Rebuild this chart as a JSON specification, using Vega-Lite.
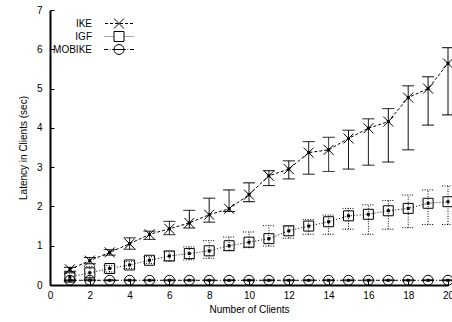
{
  "$schema": "https://vega.github.io/schema/vega-lite/v6.json",
  "width": 398,
  "height": 275,
  "autosize": "none",
  "padding": {"left": 50, "top": 10, "right": 4, "bottom": 37},
  "background": "white",
  "config": {
    "view": {"stroke": null},
    "font": "Liberation Sans",
    "axis": {
      "domainColor": "black",
      "domainWidth": 2,
      "tickColor": "black",
      "tickSize": -4,
      "labelFont": "Liberation Sans",
      "labelFontSize": 10,
      "labelColor": "black",
      "titleFont": "Liberation Sans",
      "titleFontSize": 10,
      "titleFontWeight": "normal",
      "titleColor": "black",
      "grid": false,
      "labelFlush": false,
      "labelOverlap": false
    }
  },
  "data": {
    "values": [
      {"x": 1, "series": "IKE", "y": 0.40, "lo": 0.35, "hi": 0.45},
      {"x": 2, "series": "IKE", "y": 0.62, "lo": 0.54, "hi": 0.70},
      {"x": 3, "series": "IKE", "y": 0.83, "lo": 0.76, "hi": 0.90},
      {"x": 4, "series": "IKE", "y": 1.05, "lo": 0.91, "hi": 1.20},
      {"x": 5, "series": "IKE", "y": 1.29, "lo": 1.16, "hi": 1.37},
      {"x": 6, "series": "IKE", "y": 1.43, "lo": 1.28, "hi": 1.62},
      {"x": 7, "series": "IKE", "y": 1.58, "lo": 1.45, "hi": 1.90},
      {"x": 8, "series": "IKE", "y": 1.79, "lo": 1.60, "hi": 2.21},
      {"x": 9, "series": "IKE", "y": 1.94, "lo": 1.87, "hi": 2.42},
      {"x": 10, "series": "IKE", "y": 2.30, "lo": 2.12, "hi": 2.60},
      {"x": 11, "series": "IKE", "y": 2.78, "lo": 2.53, "hi": 2.91},
      {"x": 12, "series": "IKE", "y": 2.95, "lo": 2.70, "hi": 3.16},
      {"x": 13, "series": "IKE", "y": 3.37, "lo": 2.82, "hi": 3.65},
      {"x": 14, "series": "IKE", "y": 3.44, "lo": 2.89, "hi": 3.76},
      {"x": 15, "series": "IKE", "y": 3.73, "lo": 2.95, "hi": 3.94},
      {"x": 16, "series": "IKE", "y": 3.99, "lo": 3.05, "hi": 4.23},
      {"x": 17, "series": "IKE", "y": 4.16, "lo": 3.13, "hi": 4.49},
      {"x": 18, "series": "IKE", "y": 4.77, "lo": 3.44, "hi": 5.07},
      {"x": 19, "series": "IKE", "y": 5.00, "lo": 4.07, "hi": 5.30},
      {"x": 20, "series": "IKE", "y": 5.64, "lo": 4.33, "hi": 6.04},
      {"x": 1, "series": "IGF", "y": 0.20, "lo": 0.10, "hi": 0.30},
      {"x": 2, "series": "IGF", "y": 0.31, "lo": 0.15, "hi": 0.47},
      {"x": 3, "series": "IGF", "y": 0.42, "lo": 0.33, "hi": 0.50},
      {"x": 4, "series": "IGF", "y": 0.51, "lo": 0.42, "hi": 0.60},
      {"x": 5, "series": "IGF", "y": 0.63, "lo": 0.55, "hi": 0.72},
      {"x": 6, "series": "IGF", "y": 0.74, "lo": 0.61, "hi": 0.85},
      {"x": 7, "series": "IGF", "y": 0.80, "lo": 0.64, "hi": 0.97},
      {"x": 8, "series": "IGF", "y": 0.87, "lo": 0.68, "hi": 1.13},
      {"x": 9, "series": "IGF", "y": 1.00, "lo": 0.88, "hi": 1.22},
      {"x": 10, "series": "IGF", "y": 1.09, "lo": 0.95, "hi": 1.35},
      {"x": 11, "series": "IGF", "y": 1.18, "lo": 0.99, "hi": 1.51},
      {"x": 12, "series": "IGF", "y": 1.38, "lo": 1.19, "hi": 1.50},
      {"x": 13, "series": "IGF", "y": 1.50, "lo": 1.29, "hi": 1.67},
      {"x": 14, "series": "IGF", "y": 1.61, "lo": 1.29, "hi": 1.78},
      {"x": 15, "series": "IGF", "y": 1.76, "lo": 1.42, "hi": 1.95},
      {"x": 16, "series": "IGF", "y": 1.80, "lo": 1.29, "hi": 2.04},
      {"x": 17, "series": "IGF", "y": 1.89, "lo": 1.42, "hi": 2.15},
      {"x": 18, "series": "IGF", "y": 1.95, "lo": 1.46, "hi": 2.29},
      {"x": 19, "series": "IGF", "y": 2.08, "lo": 1.54, "hi": 2.42},
      {"x": 20, "series": "IGF", "y": 2.12, "lo": 1.54, "hi": 2.52},
      {"x": 1, "series": "MOBIKE", "y": 0.12, "lo": 0.11, "hi": 0.13},
      {"x": 2, "series": "MOBIKE", "y": 0.12, "lo": 0.11, "hi": 0.13},
      {"x": 3, "series": "MOBIKE", "y": 0.12, "lo": 0.11, "hi": 0.13},
      {"x": 4, "series": "MOBIKE", "y": 0.12, "lo": 0.11, "hi": 0.13},
      {"x": 5, "series": "MOBIKE", "y": 0.12, "lo": 0.11, "hi": 0.13},
      {"x": 6, "series": "MOBIKE", "y": 0.12, "lo": 0.11, "hi": 0.13},
      {"x": 7, "series": "MOBIKE", "y": 0.12, "lo": 0.11, "hi": 0.13},
      {"x": 8, "series": "MOBIKE", "y": 0.12, "lo": 0.11, "hi": 0.13},
      {"x": 9, "series": "MOBIKE", "y": 0.12, "lo": 0.11, "hi": 0.13},
      {"x": 10, "series": "MOBIKE", "y": 0.12, "lo": 0.11, "hi": 0.13},
      {"x": 11, "series": "MOBIKE", "y": 0.12, "lo": 0.11, "hi": 0.13},
      {"x": 12, "series": "MOBIKE", "y": 0.12, "lo": 0.11, "hi": 0.13},
      {"x": 13, "series": "MOBIKE", "y": 0.12, "lo": 0.11, "hi": 0.13},
      {"x": 14, "series": "MOBIKE", "y": 0.12, "lo": 0.11, "hi": 0.13},
      {"x": 15, "series": "MOBIKE", "y": 0.12, "lo": 0.11, "hi": 0.13},
      {"x": 16, "series": "MOBIKE", "y": 0.12, "lo": 0.11, "hi": 0.13},
      {"x": 17, "series": "MOBIKE", "y": 0.12, "lo": 0.11, "hi": 0.13},
      {"x": 18, "series": "MOBIKE", "y": 0.12, "lo": 0.11, "hi": 0.13},
      {"x": 19, "series": "MOBIKE", "y": 0.12, "lo": 0.11, "hi": 0.13},
      {"x": 20, "series": "MOBIKE", "y": 0.12, "lo": 0.11, "hi": 0.13}
    ]
  },
  "encoding": {
    "x": {
      "field": "x",
      "type": "quantitative",
      "scale": {"domain": [0, 20], "nice": false},
      "axis": {"values": [0, 2, 4, 6, 8, 10, 12, 14, 16, 18, 20], "title": "Number of Clients", "labelPadding": 9, "titlePadding": 4}
    }
  },
  "layer": [
    {
      "mark": {"type": "line", "color": "black", "strokeWidth": 1},
      "encoding": {
        "y": {
          "field": "y",
          "type": "quantitative",
          "scale": {"domain": [0, 7], "nice": false},
          "axis": {"values": [0, 1, 2, 3, 4, 5, 6, 7], "title": "Latency in Clients (sec)", "labelPadding": 12, "titlePadding": 8}
        },
        "strokeDash": {
          "field": "series",
          "type": "nominal",
          "scale": {"domain": ["IKE", "IGF", "MOBIKE"], "range": [[3, 2], [1, 2], [4, 2, 1, 2]]},
          "legend": null
        }
      }
    },
    {
      "mark": {"type": "rule", "color": "black", "strokeWidth": 1},
      "encoding": {
        "y": {
          "field": "lo",
          "type": "quantitative",
          "scale": {"domain": [0, 7], "nice": false},
          "axis": {"values": [0, 1, 2, 3, 4, 5, 6, 7], "title": "Latency in Clients (sec)", "labelPadding": 12, "titlePadding": 8}
        },
        "y2": {"field": "hi"},
        "strokeDash": {
          "field": "series",
          "type": "nominal",
          "scale": {"domain": ["IKE", "IGF", "MOBIKE"], "range": [[1, 0], [1, 1.5], [1, 0]]},
          "legend": null
        }
      }
    },
    {
      "mark": {"type": "point", "shape": "M-1,0L1,0", "size": 144, "filled": false, "color": "black", "strokeWidth": 1, "opacity": 1},
      "encoding": {
        "y": {
          "field": "lo",
          "type": "quantitative",
          "scale": {"domain": [0, 7], "nice": false},
          "axis": {"values": [0, 1, 2, 3, 4, 5, 6, 7], "title": "Latency in Clients (sec)", "labelPadding": 12, "titlePadding": 8}
        },
        "strokeDash": {
          "field": "series",
          "type": "nominal",
          "scale": {"domain": ["IKE", "IGF", "MOBIKE"], "range": [[1, 0], [1, 1.5], [1, 0]]},
          "legend": null
        }
      }
    },
    {
      "mark": {"type": "point", "shape": "M-1,0L1,0", "size": 144, "filled": false, "color": "black", "strokeWidth": 1, "opacity": 1},
      "encoding": {
        "y": {
          "field": "hi",
          "type": "quantitative",
          "scale": {"domain": [0, 7], "nice": false},
          "axis": {"values": [0, 1, 2, 3, 4, 5, 6, 7], "title": "Latency in Clients (sec)", "labelPadding": 12, "titlePadding": 8}
        },
        "strokeDash": {
          "field": "series",
          "type": "nominal",
          "scale": {"domain": ["IKE", "IGF", "MOBIKE"], "range": [[1, 0], [1, 1.5], [1, 0]]},
          "legend": null
        }
      }
    },
    {
      "mark": {"type": "point", "filled": false, "color": "black", "strokeWidth": 1, "size": 100, "opacity": 1},
      "encoding": {
        "y": {
          "field": "y",
          "type": "quantitative",
          "scale": {"domain": [0, 7], "nice": false},
          "axis": {"values": [0, 1, 2, 3, 4, 5, 6, 7], "title": "Latency in Clients (sec)", "labelPadding": 12, "titlePadding": 8}
        },
        "shape": {
          "field": "series",
          "type": "nominal",
          "scale": {"domain": ["IKE", "IGF", "MOBIKE"], "range": ["M-1,-1L1,1M-1,1L1,-1", "square", "circle"]},
          "legend": null
        }
      }
    },
    {
      "mark": {"type": "square", "color": "black", "filled": true, "opacity": 1},
      "encoding": {
        "y": {
          "field": "y",
          "type": "quantitative",
          "scale": {"domain": [0, 7], "nice": false},
          "axis": {"values": [0, 1, 2, 3, 4, 5, 6, 7], "title": "Latency in Clients (sec)", "labelPadding": 12, "titlePadding": 8}
        },
        "size": {
          "field": "series",
          "type": "ordinal",
          "scale": {"domain": ["IKE", "IGF", "MOBIKE"], "range": [9, 9, 42]},
          "legend": null
        }
      }
    },
    {
      "mark": {"type": "point", "filled": false, "color": "black", "strokeWidth": 1, "size": 100, "opacity": 0},
      "encoding": {
        "y": {
          "field": "y",
          "type": "quantitative",
          "scale": {"domain": [0, 7], "nice": false},
          "axis": {"values": [0, 1, 2, 3, 4, 5, 6, 7], "title": "Latency in Clients (sec)", "labelPadding": 12, "titlePadding": 8}
        },
        "shape": {
          "field": "series",
          "type": "nominal",
          "scale": {
            "domain": ["IKE", "IGF", "MOBIKE"],
            "range": [
              "M-1,-1L1,1M-1,1L1,-1M-2.8,0H-2.2M-1.8,0H-1.2M-0.8,0H-0.2M0.2,0H0.8M1.2,0H1.8M2.2,0H2.8",
              "M-1,-1H1V1H-1ZM-2.87,0H-2.73M-2.47,0H-2.33M-2.07,0H-1.93M-1.67,0H-1.53M-1.27,0H-1.13M1.13,0H1.27M1.53,0H1.67M1.93,0H2.07M2.33,0H2.47M2.73,0H2.87",
              "M-1,0A1,1,0,1,1,1,0A1,1,0,1,1,-1,0ZM-1,0H1M-3,0H-2.2M-1.85,0H-1.7M-1.35,0H-1M1,0H1.35M1.7,0H1.85M2.2,0H3"
            ]
          },
          "legend": {
            "title": null,
            "orient": "none",
            "legendX": 63.5,
            "legendY": 8,
            "padding": 0,
            "labelAlign": "right",
            "labelOffset": -32.5,
            "symbolSize": 100,
            "symbolOpacity": 1,
            "symbolStrokeWidth": 1,
            "symbolStrokeColor": "black",
            "symbolFillColor": "transparent",
            "rowPadding": -7,
            "labelFontSize": 10,
            "labelFont": "Liberation Sans",
            "labelColor": "black"
          }
        }
      }
    }
  ],
  "resolve": {"scale": {"strokeDash": "independent", "shape": "independent"}}
}
